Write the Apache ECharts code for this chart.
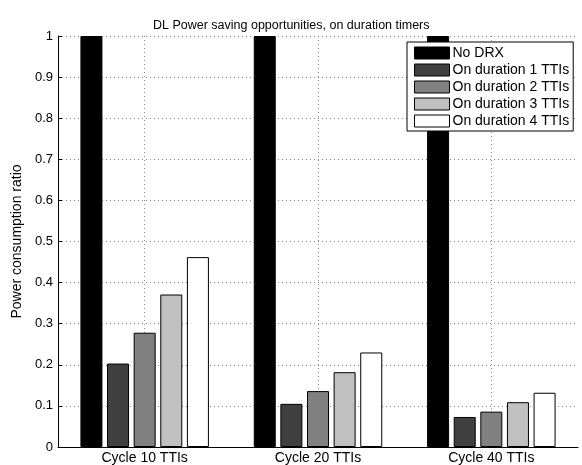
<!DOCTYPE html>
<html><head><meta charset="utf-8">
<script src="https://cdn.jsdelivr.net/npm/echarts@6/dist/echarts.min.js"></script>
<style>html,body{margin:0;padding:0;background:#fff}#c{width:582px;height:465px}</style>
</head><body><div id="c"></div>
<script>
const categories = ['Cycle 10 TTIs', 'Cycle 20 TTIs', 'Cycle 40 TTIs'];
const seriesNames = ['No DRX', 'On duration 1 TTIs', 'On duration 2 TTIs', 'On duration 3 TTIs', 'On duration 4 TTIs'];
const noDrx = [1, 1, 1];
const on1 = [0.203, 0.105, 0.073];
const on2 = [0.278, 0.136, 0.086];
const on3 = [0.371, 0.182, 0.109];
const on4 = [0.462, 0.230, 0.132];
const colors = ['#000000', '#404040', '#808080', '#c0c0c0', '#ffffff'];
const yTicks = [0, 0.1, 0.2, 0.3, 0.4, 0.5, 0.6, 0.7, 0.8, 0.9, 1];

const values = [noDrx, on1, on2, on3, on4];
const font = 'Liberation Sans, Arial, Helvetica, sans-serif';
const chart = echarts.init(document.getElementById('c'));
chart.setOption({
  animation: false,
  backgroundColor: '#fff',
  title: {
    text: 'DL Power saving opportunities, on duration timers',
    left: 148, top: 14,
    textStyle: { fontFamily: font, fontSize: 12.5, fontWeight: 'normal', color: '#000' }
  },
  legend: {
    orient: 'vertical', left: 407, top: 42,
    data: seriesNames,
    icon: 'rect', itemWidth: 35, itemHeight: 12, itemGap: 3,
    padding: [4, 4, 3, 7],
    borderColor: '#000', borderWidth: 1, backgroundColor: '#fff',
    textStyle: { fontFamily: font, fontSize: 14, color: '#000', padding: [0, 0, 0, -2] },
    itemStyle: { borderColor: '#000', borderWidth: 1 }
  },
  grid: { left: 58, right: 4, top: 36, bottom: 18, containLabel: false },
  xAxis: {
    type: 'category', data: categories,
    axisLine: { lineStyle: { color: '#000', width: 1 } },
    axisTick: { show: true, inside: true, length: 4, alignWithLabel: true, lineStyle: { color: '#000' } },
    axisLabel: { fontFamily: font, fontSize: 14, color: '#000', margin: 4 },
    splitLine: { show: true, alignWithLabel: true, lineStyle: { color: '#888', type: [1, 3], width: 1 } }
  },
  yAxis: {
    type: 'value', min: 0, max: 1, interval: 0.1,
    name: 'Power consumption ratio', nameLocation: 'middle', nameGap: 27,
    nameTextStyle: { fontFamily: font, fontSize: 14, color: '#000' },
    axisLine: { show: true, lineStyle: { color: '#000', width: 1 } },
    axisTick: { show: true, inside: true, length: 4, lineStyle: { color: '#000' } },
    axisLabel: { fontFamily: font, fontSize: 13, color: '#000', margin: 5,
      formatter: v => { const t = yTicks.find(x => Math.abs(x - v) < 1e-9); return t === undefined ? '' : String(t); } },
    splitLine: { show: true, lineStyle: { color: '#888', type: [1, 3], width: 1 } }
  },
  series: seriesNames.map((n, i) => ({
    name: n, type: 'bar', data: values[i],
    barWidth: 22, barGap: '21%',
    itemStyle: { color: colors[i], borderColor: '#000', borderWidth: 1 }
  }))
});
</script></body></html>
